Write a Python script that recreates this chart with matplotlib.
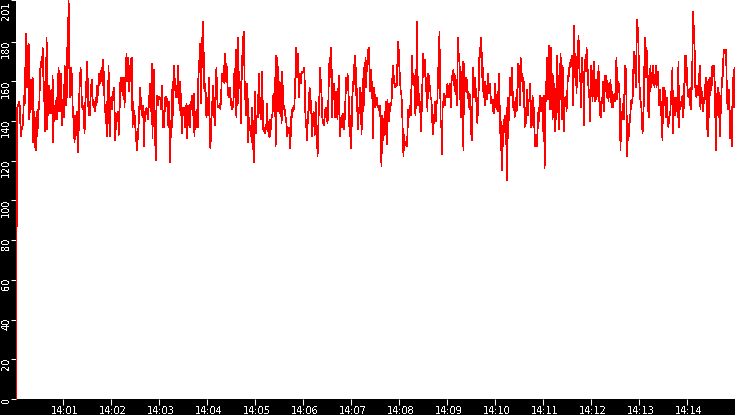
import matplotlib
matplotlib.use("Agg")
import matplotlib.pyplot as plt
import matplotlib.transforms as mtransforms
import numpy as np

plt.rcParams['text.antialiased'] = False

# ---------------- data ----------------
start_time = "14:00:01"
end_time = "14:15:00"
x_tick_labels = ["14:01", "14:02", "14:03", "14:04", "14:05", "14:06", "14:07",
                 "14:08", "14:09", "14:10", "14:11", "14:12", "14:13", "14:14"]
y_ticks = [0, 20, 40, 60, 80, 100, 120, 140, 160, 180, 201]

seg_a = [0, 88, 147, 148, 149, 150, 146, 132, 137, 136, 138, 143, 153, 149, 167, 184, 157, 178, 160, 179,
         141, 147, 155, 161, 146, 162, 129, 145, 142, 127, 125, 145, 132, 140, 150, 146, 164, 168, 170, 167,
         177, 163, 150, 160, 135, 159, 182, 136, 153, 143, 158, 153, 151, 144, 146, 163, 129, 148, 145, 141,
         148, 152, 141, 159, 167, 145, 156, 145, 164, 138, 148, 151, 142, 168, 163, 148, 177, 152, 176, 201]

seg_b = [181, 152, 157, 167, 162, 148, 143, 135, 129, 143, 133, 139, 145, 124, 133, 153, 160, 167, 159, 148,
         146, 148, 141, 134, 148, 160, 152, 170, 156, 143, 150, 143, 153, 158, 161, 148, 151, 147, 150, 145,
         152, 148, 158, 153, 157, 164, 163, 159, 165, 167, 158, 171, 162, 149, 146, 139, 150, 132, 142, 168,
         147, 132, 148, 152, 146, 155, 151, 157, 148, 130, 138, 144, 140, 145, 139, 133, 153, 162, 155, 162,
         162, 153, 162, 147, 158, 167, 174, 160, 172, 162, 155, 168, 160, 171, 172, 137, 150, 143, 137, 143,
         132, 129, 125, 133, 137, 144, 157, 154, 146, 145, 142, 148, 127, 138, 145, 144, 147, 144, 141, 146,
         150, 159, 145, 150, 169, 131, 154, 166, 151, 131, 120, 150, 153, 148, 152, 152, 151, 152, 146, 158,
         149, 137, 137, 142, 152, 152, 152, 150, 142, 137, 150]

seg_c = [119, 134, 132, 156, 137, 156, 168, 163, 157, 152, 157, 152, 168, 149, 155, 160, 143, 154, 134, 141,
         147, 143, 147, 137, 141, 149, 131, 148, 138, 146, 137, 150, 146, 153, 150, 143, 154, 132, 142, 137,
         146, 142, 137, 164]

seg_d = [165, 179, 175, 149, 182, 167, 190, 172, 155, 159, 154, 142, 150, 143, 153, 162, 135, 126, 135, 150,
         143, 158, 151, 141, 138, 152, 167, 154, 147, 148, 147, 149, 146, 152, 161, 164, 160, 168, 159, 174,
         160, 169, 165, 153, 157, 152, 157, 154, 148, 149, 146, 148, 152, 164, 158, 176, 142, 155, 182, 149,
         165, 157, 160, 139, 162, 173, 180, 185, 167, 151, 159, 143, 159, 151, 129, 142, 136, 138, 136, 129,
         147, 133, 119, 133, 155, 134, 143, 142, 142, 153, 164, 144, 152, 141, 152, 165, 136, 137, 135, 134,
         136, 138, 149, 140, 135, 133, 132, 141, 136, 142, 143, 151, 154, 145, 162, 127, 173, 171, 168, 145,
         147, 160, 144, 147, 139, 165, 152, 146, 148, 144, 142, 140, 132, 137, 136, 134, 137, 126, 137, 146,
         142, 147, 146]

seg_e = [147, 155, 167, 177, 162, 168, 174, 152, 163, 164, 159, 165, 164, 165, 165, 167, 156, 137, 141, 130,
         145, 139, 150, 157, 153, 149, 141, 132, 141, 145, 138, 133, 150, 145, 134, 122, 136, 148, 155, 167,
         157, 153, 142, 140, 138, 138, 146, 142, 147, 142, 139, 148, 163, 172, 162, 177, 170, 142, 156, 151,
         159, 142, 148, 155, 143, 141, 155, 163, 141, 132, 139, 143, 137, 143, 144, 136, 143, 153, 162, 156,
         164, 157, 150, 132, 143, 126, 134, 151, 157, 161, 167, 173, 153, 167, 152, 142, 136, 147, 145, 157,
         153, 133, 147, 145, 167, 148, 162, 172, 157, 168, 171, 176, 177, 166, 155, 166, 160, 159, 131, 144,
         157, 152, 147, 150, 152, 147, 148, 147, 145, 148, 128, 117, 143, 134, 130, 140]

seg_f = [145, 133, 150, 128, 151, 143, 140, 149, 145, 149, 149, 159, 168, 159, 163, 157, 157, 159, 158, 171,
         180, 175, 166, 160, 154, 153, 146, 133, 122, 133, 129, 128, 129, 127, 133, 146, 143, 142, 148, 143,
         157, 173, 162, 158, 163, 150, 143, 153, 190, 168, 148, 154, 148, 150, 135, 143, 149, 174, 162, 164,
         171, 163, 155, 162, 145, 164, 163, 155, 158, 151, 151, 143, 133, 143, 139, 150, 147, 140, 150, 150,
         167, 160, 185, 161, 137, 138, 123, 150, 148, 154, 148, 151, 153, 152, 159, 152, 158, 152, 159, 147,
         159, 163, 162, 166, 160, 155, 163, 158, 148, 162, 182, 172, 174, 158, 142, 154, 161, 170, 125, 169,
         161, 155, 162, 161, 154, 155, 147, 154, 153, 138, 133, 130, 167, 158, 152, 156, 162, 150, 152, 139,
         147, 156, 172, 172, 182, 179, 169, 155, 167, 152, 160, 148, 158, 157, 151, 164, 158, 154, 159, 152,
         149, 149, 151, 145, 144, 148, 159, 147, 152, 146, 145, 164, 152]

seg_g = [144, 125, 140, 115, 138, 127, 141, 139, 143, 128, 147, 110, 152, 140, 152, 162, 153, 160, 167, 155,
         147, 150, 142, 148, 152, 145, 155, 169, 157, 168, 148, 172, 160, 164, 162, 155, 160, 137, 147, 139,
         147, 156, 143, 151, 150, 159, 150, 137, 147, 153, 138, 147, 130, 127, 133, 127, 132, 139, 147, 140,
         153, 147, 145, 152, 147, 135, 153, 116, 135, 160, 151, 172, 151, 165, 178, 146, 157, 177, 155, 141,
         163, 142, 159, 135, 148, 141, 173, 157, 150, 136, 160, 174, 156, 141, 168, 162, 135, 151, 152, 152,
         145, 154, 163, 162, 167, 167, 171, 168, 173, 165, 148, 188, 162, 174, 167, 154, 172, 175, 183, 168,
         160, 164, 147, 172, 164, 165, 138, 164, 171, 165, 177, 173, 163, 156, 155, 140, 149, 168, 161, 150,
         164, 170, 156, 150, 161, 151, 159, 156, 168, 152, 143, 150, 142, 152, 150, 160, 145, 160, 163, 155,
         163, 152, 156, 150, 159, 154, 161, 150, 147, 155, 147, 152, 151]

seg_h = [150, 165, 172, 151, 156, 160, 156, 150, 125, 145, 141, 143, 149, 141, 157, 168, 166, 150, 122, 137,
         130, 138, 140, 144, 150, 151, 149, 163, 175, 164, 173, 157, 176, 191, 186, 178, 161, 156, 150, 149,
         143, 134, 137, 150, 171, 182, 162, 177, 172, 161, 142, 142, 158, 168, 157, 162, 159, 168, 162, 157,
         161, 168, 157, 162, 165, 157, 148, 156, 153, 143, 142, 130, 157, 148, 157, 152, 142, 143, 152, 140,
         137, 142, 143, 145, 155, 155, 167, 134, 147, 152, 143, 152, 151, 147, 142, 170, 137, 150, 146, 149,
         148, 153, 142, 147, 160, 173, 173, 158, 167, 154, 152, 156, 148, 157, 146, 157, 171, 195, 179, 188,
         157, 158, 152, 158, 153, 156, 161, 168, 146, 157, 149, 155, 145, 152, 149, 155, 162, 150, 139, 132,
         161, 142, 162, 153, 159, 158, 168, 164, 168, 162, 157, 125, 142, 154, 143, 157, 151, 132, 147, 144,
         162, 157, 169, 174, 176, 175, 176, 168, 152, 146, 150, 156, 145, 131, 140, 127, 147, 162, 147, 166,
         167]

values = seg_a + seg_b + seg_c + seg_d + seg_e + seg_f + seg_g + seg_h


def to_sec(s):
    parts = [int(p) for p in s.split(":")]
    while len(parts) < 3:
        parts.append(0)
    return parts[0] * 3600 + parts[1] * 60 + parts[2]


t0, t1 = to_sec(start_time), to_sec(end_time)
t = np.linspace(t0, t1, len(values))

# ---------------- figure ----------------
W, H = 735, 415
fig = plt.figure(figsize=(W / 100, H / 100), dpi=100, facecolor='black')
ax = fig.add_axes([16 / W, 16 / H, (W - 16) / W, (H - 16) / H])
ax.set_facecolor('white')
ax.plot(t, values, color='#ff0000', lw=0.5, antialiased=False, solid_joinstyle='miter')
ax.set_xlim(t0, t1)
ax.set_ylim(0, 201)

ax.set_xticks([to_sec(s) for s in x_tick_labels])
ax.set_xticklabels(x_tick_labels)
ax.set_yticks(y_ticks)
ax.set_yticklabels([str(v) for v in y_ticks])

for s in ax.spines.values():
    s.set_visible(False)

ax.tick_params(axis='both', colors='white', labelsize=7, width=0.75, direction='out')
ax.tick_params(axis='x', length=4.3, pad=0.4)
ax.tick_params(axis='y', length=3.6, pad=1.2)

for lab in ax.get_xticklabels():
    lab.set_transform(lab.get_transform() +
                      mtransforms.ScaledTranslation(0.015, 0, fig.dpi_scale_trans))

for lab, v in zip(ax.get_yticklabels(), y_ticks):
    lab.set_rotation(90)
    lab.set_rotation_mode('anchor')
    lab.set_horizontalalignment('right')
    lab.set_verticalalignment('baseline')
    dy = 0.02 if v != y_ticks[-1] else -0.02
    lab.set_transform(lab.get_transform() +
                      mtransforms.ScaledTranslation(0, dy, fig.dpi_scale_trans))

fig.savefig('out.png', dpi=100, facecolor='black')
